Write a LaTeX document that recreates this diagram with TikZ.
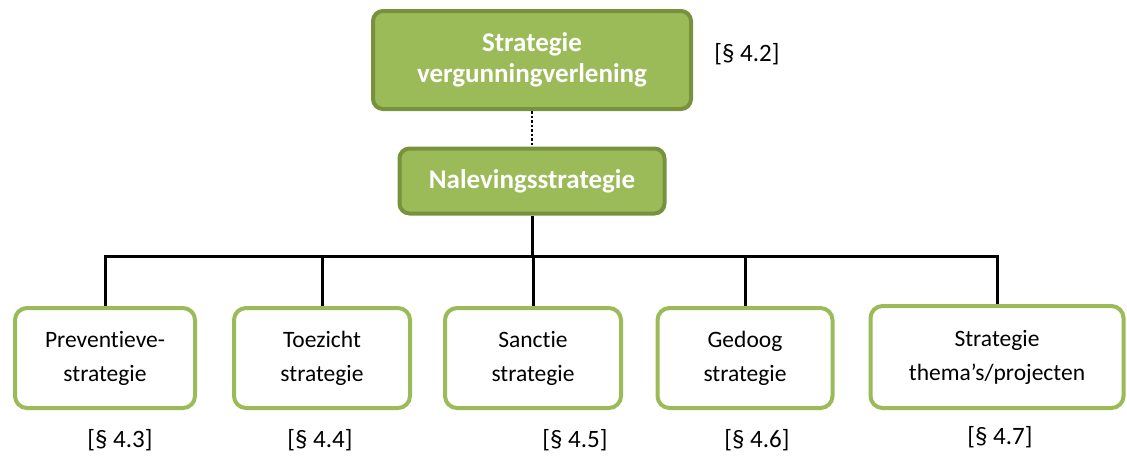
\documentclass[tikz,border=0pt]{standalone}
\usepackage{fontspec}
\setmainfont{Carlito}[Ligatures=NoCommon]
\definecolor{gfill}{HTML}{9BBB59}
\definecolor{gdark}{HTML}{76923C}
\begin{document}
\begin{tikzpicture}[x=1pt,y=-1pt,
  topbox/.style={draw=gdark,fill=gfill,line width=4pt,rounded corners=10pt,text=white,font=\bfseries\fontsize{27}{31}\selectfont,align=center,inner sep=0pt},
  subbox/.style={draw=gfill,fill=white,line width=4pt,rounded corners=12pt,align=center,font=\fontsize{23.5}{34}\selectfont,inner sep=0pt},
  ref/.style={font=\fontsize{25}{28}\selectfont,inner sep=0pt},
  conn/.style={line width=3pt,draw=black},
  dotconn/.style={line width=2.5pt,draw=black,dash pattern=on 2.5pt off 2pt}]
\useasboundingbox (0,0) rectangle (1127,456);
\node[topbox,minimum width=318pt,minimum height=98pt] (top) at (532,60) {Strategie\\vergunningverlening};
\node[topbox,minimum width=265pt,minimum height=65pt] (nal) at (532,181) {Nalevingsstrategie};
\node[ref] (r42) at (747,54) {[§ 4.2]};
\draw[dotconn] (top.south) -- (nal.north);
\node[subbox,minimum width=180pt,minimum height=100pt] (b1) at (105,358) {Preventieve-\\strategie};
\node[subbox,minimum width=176pt,minimum height=100pt] (b2) at (322,358) {Toezicht\\strategie};
\node[subbox,minimum width=176pt,minimum height=100pt] (b3) at (533,358) {Sanctie\\strategie};
\node[subbox,minimum width=175pt,minimum height=100pt] (b4) at (745,358) {Gedoog\\strategie};
\node[subbox,minimum width=253pt,minimum height=102pt] (b5) at (997,357) {Strategie\\thema’s/projecten};
\coordinate (hub) at (532,256);
\draw[conn] (nal.south) -- (hub);
\draw[conn] (b1.north) |- (hub) -| (b5.north);
\draw[conn] (b2.north) -- (b2.north |- hub);
\draw[conn] (b3.north) -- (b3.north |- hub);
\draw[conn] (b4.north) -- (b4.north |- hub);
\node[ref] (r43) at (120,440) {[§ 4.3]};
\node[ref] (r44) at (320,440) {[§ 4.4]};
\node[ref] (r45) at (575,440) {[§ 4.5]};
\node[ref] (r46) at (757,440) {[§ 4.6]};
\node[ref] (r47) at (1000,437) {[§ 4.7]};
\end{tikzpicture}
\end{document}
